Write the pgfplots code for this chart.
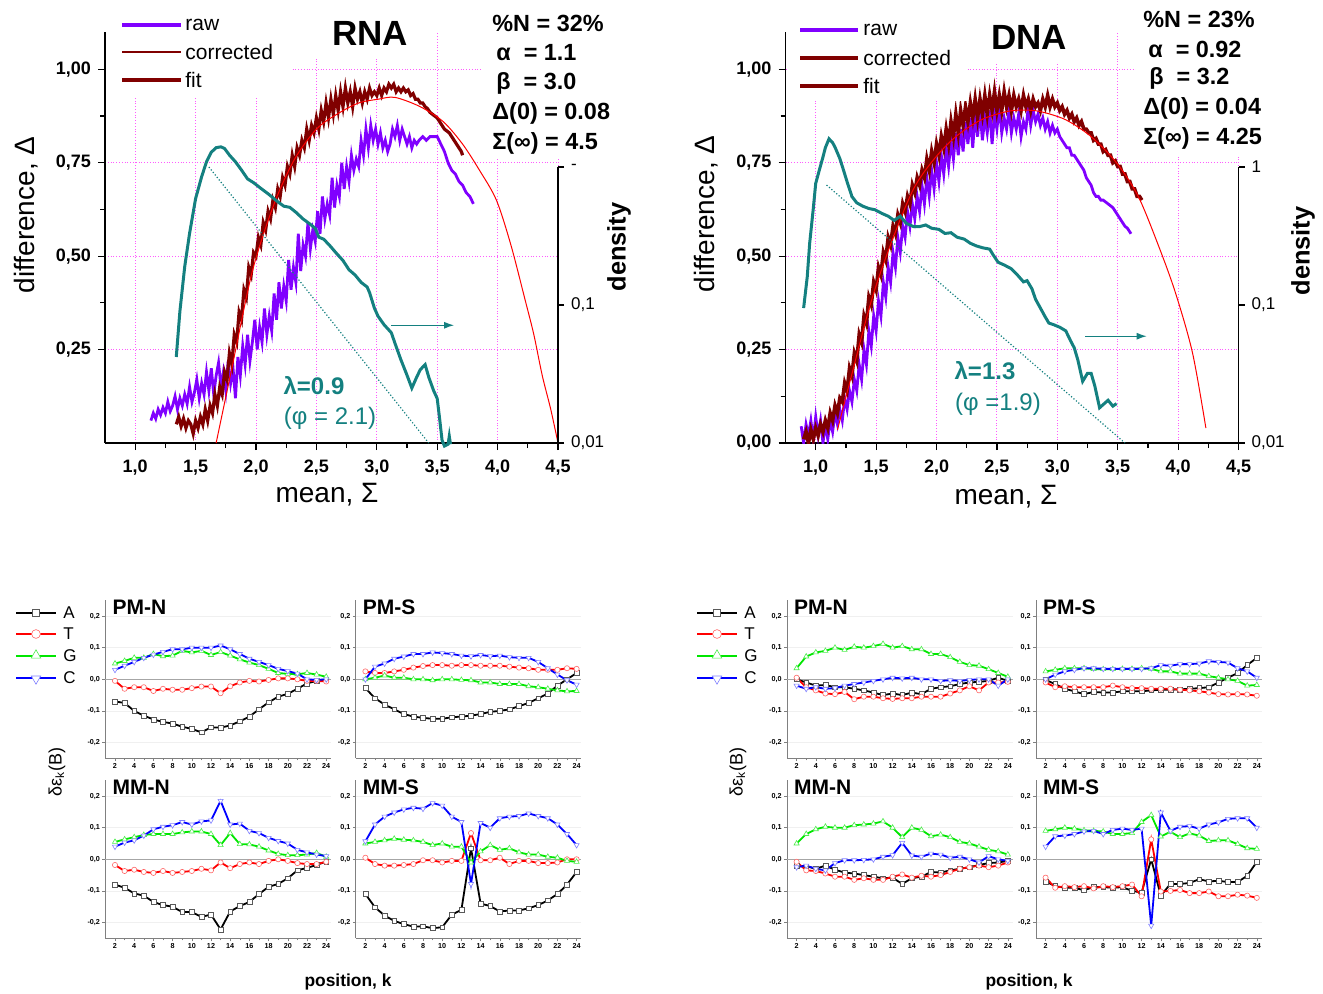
\documentclass[border=0pt]{standalone}
\usepackage{fontspec}
\setmainfont{Liberation Sans}
\usepackage{pgfplots}
\usepackage{pgfplotstable}
\pgfplotsset{compat=1.18}
\usetikzlibrary{arrows.meta,shapes.geometric}

\definecolor{rawc}{RGB}{128,0,255}
\definecolor{corc}{RGB}{128,0,0}
\definecolor{fitc}{RGB}{255,0,0}
\definecolor{tl}{RGB}{20,128,128}
\definecolor{gridm}{RGB}{255,90,255}
\definecolor{cG}{RGB}{0,230,0}

% ---- small panels: k, A, T, G, C ----
\pgfplotstableread{
k A T G C
2 -0.070 -0.005 0.050 0.030
3 -0.075 -0.030 0.058 0.043
4 -0.100 -0.025 0.068 0.055
5 -0.115 -0.025 0.068 0.068
6 -0.127 -0.037 0.080 0.078
7 -0.135 -0.030 0.073 0.087
8 -0.140 -0.033 0.075 0.095
9 -0.150 -0.033 0.090 0.095
10 -0.157 -0.028 0.085 0.100
11 -0.168 -0.023 0.090 0.100
12 -0.152 -0.023 0.077 0.100
13 -0.153 -0.044 0.086 0.107
14 -0.146 -0.022 0.075 0.095
15 -0.133 -0.010 0.063 0.080
16 -0.118 -0.005 0.053 0.065
17 -0.095 -0.007 0.045 0.055
18 -0.073 -0.002 0.033 0.045
19 -0.055 0.003 0.020 0.033
20 -0.046 0.003 0.017 0.026
21 -0.030 0.000 0.016 0.018
22 -0.013 -0.005 0.020 0.000
23 -0.005 -0.005 0.015 -0.002
24 0.000 -0.007 0.008 0.000
}\rPMN
\pgfplotstableread{
k A T G C
2 -0.028 0.025 0.000 0.000
3 -0.060 0.020 0.005 0.040
4 -0.080 0.020 0.012 0.050
5 -0.095 0.025 0.005 0.065
6 -0.110 0.030 0.005 0.072
7 -0.118 0.037 0.000 0.080
8 -0.122 0.042 0.000 0.080
9 -0.125 0.045 -0.003 0.085
10 -0.125 0.045 0.000 0.083
11 -0.120 0.043 0.000 0.080
12 -0.118 0.045 -0.002 0.075
13 -0.115 0.045 -0.003 0.073
14 -0.110 0.043 -0.010 0.077
15 -0.103 0.043 -0.010 0.073
16 -0.100 0.043 -0.015 0.075
17 -0.095 0.040 -0.015 0.070
18 -0.085 0.037 -0.015 0.068
19 -0.075 0.035 -0.022 0.068
20 -0.060 0.030 -0.025 0.055
21 -0.045 0.030 -0.030 0.035
22 -0.020 0.030 -0.035 0.015
23 0.000 0.035 -0.038 -0.003
24 0.020 0.033 -0.037 -0.017
}\rPMS
\pgfplotstableread{
k A T G C
2 -0.080 -0.018 0.055 0.040
3 -0.090 -0.037 0.063 0.053
4 -0.108 -0.033 0.070 0.060
5 -0.115 -0.040 0.077 0.075
6 -0.135 -0.043 0.080 0.095
7 -0.145 -0.037 0.080 0.103
8 -0.150 -0.043 0.080 0.108
9 -0.167 -0.040 0.085 0.118
10 -0.167 -0.037 0.088 0.110
11 -0.182 -0.030 0.088 0.120
12 -0.175 -0.035 0.080 0.123
13 -0.222 -0.010 0.045 0.185
14 -0.165 -0.028 0.083 0.110
15 -0.148 -0.015 0.048 0.113
16 -0.135 -0.010 0.047 0.090
17 -0.110 -0.015 0.040 0.083
18 -0.087 -0.005 0.028 0.068
19 -0.078 0.000 0.017 0.058
20 -0.060 -0.005 0.013 0.050
21 -0.035 -0.012 0.013 0.030
22 -0.027 -0.015 0.015 0.022
23 -0.018 -0.015 0.020 0.015
24 -0.007 -0.008 0.008 0.010
}\rMMN
\pgfplotstableread{
k A T G C
2 -0.110 0.005 0.050 0.057
3 -0.152 -0.015 0.055 0.110
4 -0.178 -0.020 0.060 0.135
5 -0.195 -0.020 0.065 0.148
6 -0.205 -0.018 0.062 0.158
7 -0.213 -0.015 0.060 0.163
8 -0.212 -0.003 0.055 0.160
9 -0.218 -0.003 0.045 0.178
10 -0.215 -0.010 0.050 0.170
11 -0.175 -0.005 0.040 0.135
12 -0.160 -0.005 0.040 0.118
13 0.035 0.083 -0.010 -0.078
14 -0.140 -0.003 0.025 0.115
15 -0.148 -0.003 0.045 0.100
16 -0.165 0.005 0.030 0.130
17 -0.162 -0.015 0.035 0.135
18 -0.162 -0.005 0.022 0.137
19 -0.155 -0.005 0.015 0.145
20 -0.145 -0.012 0.015 0.137
21 -0.130 -0.012 0.008 0.130
22 -0.110 -0.010 0.005 0.110
23 -0.080 0.000 -0.005 0.080
24 -0.040 0.000 -0.008 0.045
}\rMMS
\pgfplotstableread{
k A T G C
2 0.000 0.005 0.035 -0.020
3 -0.010 -0.025 0.072 -0.030
4 -0.020 -0.035 0.085 -0.025
5 -0.018 -0.045 0.090 -0.030
6 -0.025 -0.047 0.100 -0.028
7 -0.025 -0.040 0.093 -0.020
8 -0.030 -0.063 0.103 -0.015
9 -0.035 -0.055 0.100 -0.010
10 -0.042 -0.055 0.105 -0.005
11 -0.050 -0.060 0.112 0.000
12 -0.045 -0.062 0.100 0.005
13 -0.050 -0.060 0.105 0.003
14 -0.042 -0.060 0.095 0.005
15 -0.047 -0.055 0.095 0.000
16 -0.030 -0.055 0.080 0.000
17 -0.025 -0.055 0.080 -0.005
18 -0.022 -0.045 0.070 -0.003
19 -0.015 -0.035 0.055 -0.005
20 -0.010 -0.022 0.045 -0.002
21 -0.008 -0.035 0.043 0.000
22 -0.005 -0.010 0.032 0.000
23 0.005 -0.010 0.020 -0.020
24 -0.005 -0.008 0.008 0.000
}\dPMN
\pgfplotstableread{
k A T G C
2 -0.002 -0.010 0.025 0.000
3 -0.015 -0.025 0.030 0.015
4 -0.030 -0.022 0.035 0.025
5 -0.038 -0.025 0.035 0.030
6 -0.047 -0.025 0.035 0.035
7 -0.040 -0.025 0.032 0.035
8 -0.042 -0.025 0.032 0.033
9 -0.042 -0.020 0.032 0.033
10 -0.038 -0.025 0.033 0.033
11 -0.038 -0.028 0.033 0.033
12 -0.038 -0.028 0.035 0.033
13 -0.035 -0.030 0.033 0.035
14 -0.033 -0.030 0.025 0.045
15 -0.033 -0.030 0.025 0.043
16 -0.032 -0.033 0.018 0.048
17 -0.030 -0.035 0.018 0.048
18 -0.028 -0.038 0.018 0.050
19 -0.025 -0.042 0.010 0.057
20 -0.010 -0.047 0.005 0.055
21 0.005 -0.048 0.000 0.053
22 0.020 -0.047 -0.005 0.035
23 0.045 -0.048 -0.020 0.025
24 0.068 -0.052 -0.018 0.005
}\dPMS
\pgfplotstableread{
k A T G C
2 -0.020 -0.008 0.050 -0.025
3 -0.022 -0.035 0.080 -0.020
4 -0.030 -0.037 0.095 -0.030
5 -0.020 -0.045 0.103 -0.035
6 -0.033 -0.055 0.100 -0.012
7 -0.042 -0.055 0.100 -0.003
8 -0.045 -0.065 0.108 -0.003
9 -0.050 -0.060 0.110 -0.002
10 -0.055 -0.065 0.113 0.000
11 -0.060 -0.065 0.120 0.008
12 -0.058 -0.055 0.100 0.013
13 -0.078 -0.048 0.070 0.052
14 -0.060 -0.058 0.100 0.012
15 -0.055 -0.052 0.093 0.008
16 -0.040 -0.055 0.073 0.018
17 -0.042 -0.050 0.078 0.015
18 -0.035 -0.040 0.070 0.005
19 -0.030 -0.030 0.055 0.008
20 -0.025 -0.025 0.050 0.000
21 -0.018 -0.020 0.040 -0.010
22 -0.012 -0.025 0.030 0.010
23 -0.010 -0.020 0.025 0.000
24 -0.005 -0.010 0.015 -0.005
}\dMMN
\pgfplotstableread{
k A T G C
2 -0.070 -0.058 0.090 0.040
3 -0.085 -0.090 0.095 0.073
4 -0.090 -0.085 0.100 0.075
5 -0.090 -0.088 0.097 0.080
6 -0.098 -0.085 0.092 0.088
7 -0.088 -0.092 0.090 0.090
8 -0.088 -0.085 0.088 0.080
9 -0.090 -0.088 0.080 0.093
10 -0.088 -0.085 0.080 0.097
11 -0.100 -0.080 0.083 0.093
12 -0.105 -0.117 0.118 0.097
13 0.000 0.063 0.140 -0.210
14 -0.115 -0.102 0.072 0.148
15 -0.078 -0.100 0.087 0.090
16 -0.078 -0.097 0.070 0.103
17 -0.075 -0.107 0.082 0.105
18 -0.063 -0.107 0.075 0.097
19 -0.070 -0.102 0.058 0.110
20 -0.068 -0.117 0.060 0.117
21 -0.072 -0.117 0.060 0.128
22 -0.072 -0.112 0.048 0.130
23 -0.052 -0.115 0.035 0.130
24 -0.008 -0.122 0.033 0.100
}\dMMS

\pgfplotsset{
  big/.style={scale only axis, anchor=south west, width=226.5pt, height=205.5pt,
    xmin=0.75, xmax=4.5, ymin=0, ymax=1.1,
    axis x line*=bottom, axis y line*=left,
    axis line style={line width=0.6pt}, tick style={line width=0.6pt, black},
    tick align=outside, major tick length=3.5pt, minor tick length=2.5pt,
    xtick={1,1.5,2,2.5,3,3.5,4,4.5}, minor x tick num=1, minor y tick num=1,
    grid=major, major grid style={gridm, densely dotted, line width=0.5pt},
    ticklabel style={font=\fontsize{9}{10}\selectfont\bfseries},
    xticklabel style={yshift=-1.5pt, /pgf/number format/.cd, fixed, fixed zerofill, precision=1, use comma, assume math mode=true},
    yticklabel style={/pgf/number format/.cd, fixed, fixed zerofill, precision=2, use comma, assume math mode=true},
  },
  dens/.style={scale only axis, anchor=south west, width=226.5pt, height=138pt,
    xmin=0.75, xmax=4.5, ymin=0.01, ymax=1, clip=false,
    axis x line=none, axis y line*=right, axis line style={line width=0.6pt},
    ytick={0.01,0.1,1}, yminorticks=false, tick align=outside,
    tick style={line width=0.6pt, black}, major tick length=3pt,
    ticklabel style={font=\fontsize{8.5}{10}\selectfont},
  },
  small/.style={scale only axis, anchor=south west, width=112.8pt, height=79pt,
    xmin=1, xmax=24.5, ymin=-0.25, ymax=0.25, clip=false,
    axis x line*=bottom, axis y line*=left,
    axis line style={gray, line width=0.4pt}, tick style={gray, line width=0.3pt},
    xtick={2,4,...,24}, minor x tick num=1, ytick={-0.2,-0.1,0,0.1,0.2},
    tick align=outside, major tick length=1.5pt, minor tick length=1pt,
    ymajorgrids, major grid style={gray!12, line width=0.3pt},
    ticklabel style={font=\fontsize{3.6}{4}\selectfont\bfseries, inner sep=1pt},
    xticklabel style={/pgf/number format/assume math mode=true},
    yticklabel style={/pgf/number format/.cd, fixed, fixed zerofill, precision=1, use comma, assume math mode=true},
  },
  sA/.style={black, line width=0.9pt, mark=square*, mark size=1.2pt,
    mark options={fill=white, draw=gray!70!black, line width=0.3pt}},
  sT/.style={red, line width=0.9pt, mark=*, mark size=1.3pt,
    mark options={fill=white, draw=red!60, line width=0.3pt}},
  sG/.style={cG, line width=0.9pt, mark=triangle*, mark size=1.5pt,
    mark options={fill=white, draw=cG!70, line width=0.3pt}},
  sC/.style={blue, line width=0.9pt, mark=triangle*, mark size=1.5pt,
    mark options={fill=white, draw=blue!50, line width=0.3pt, rotate=180}},
}

\newcommand\panel[3]{%
  \begin{axis}[small, at={#1}]
    \draw[gray!70, line width=0.5pt] (axis cs:1,0) -- (axis cs:24.5,0);
    \addplot[sA] table[x=k,y=A]{#2};
    \addplot[sT] table[x=k,y=T]{#2};
    \addplot[sG] table[x=k,y=G]{#2};
    \addplot[sC] table[x=k,y=C]{#2};
    \node[anchor=west, inner sep=0pt, font=\fontsize{10.5}{12}\selectfont\bfseries] at (rel axis cs:0.03,0.955) {#3};
  \end{axis}}

\begin{document}
\begin{tikzpicture}
\path[use as bounding box] (0,0) rectangle (661.5pt,-497pt);

% ================= RNA =================
\begin{axis}[big, at={(52.5pt,-221.5pt)}, ytick={0.25,0.5,0.75,1}]
\addplot[rawc, line width=1.4pt] coordinates {
(1.13,.06)(1.15,.08)(1.17,.065)(1.19,.09)(1.21,.075)(1.23,.095)(1.25,.08)(1.27,.11)(1.29,.085)
(1.31,.10)(1.33,.125)(1.35,.09)(1.37,.12)(1.39,.10)(1.41,.13)(1.43,.105)(1.45,.15)(1.47,.11)
(1.49,.135)(1.51,.17)(1.53,.12)(1.55,.16)(1.57,.13)(1.59,.19)(1.61,.14)(1.63,.20)(1.65,.13)
(1.67,.18)(1.69,.215)(1.71,.15)(1.73,.19)(1.75,.14)(1.77,.22)(1.79,.16)(1.81,.20)(1.83,.12)
(1.85,.23)(1.87,.18)(1.89,.26)(1.91,.21)(1.93,.29)(1.95,.22)(1.97,.27)(1.99,.33)(2.01,.25)
(2.03,.31)(2.05,.27)(2.07,.36)(2.09,.29)(2.11,.34)(2.13,.30)(2.15,.40)(2.17,.33)(2.19,.43)
(2.21,.36)(2.23,.42)(2.25,.38)(2.27,.49)(2.29,.41)(2.31,.47)(2.33,.43)(2.35,.56)(2.37,.46)
(2.39,.53)(2.41,.50)(2.43,.59)(2.45,.52)(2.47,.57)(2.49,.54)(2.51,.62)(2.53,.56)(2.55,.66)
(2.57,.60)(2.59,.64)(2.61,.61)(2.63,.71)(2.65,.63)(2.67,.69)(2.69,.66)(2.71,.75)(2.73,.68)
(2.75,.74)(2.77,.70)(2.79,.77)(2.81,.73)(2.83,.76)(2.85,.74)(2.87,.81)(2.89,.77)(2.91,.84)
(2.93,.79)(2.95,.85)(2.97,.81)(2.99,.84)(3.01,.80)(3.03,.83)(3.05,.79)(3.07,.81)(3.09,.78)
(3.11,.80)(3.13,.84)(3.15,.82)(3.17,.85)(3.19,.81)(3.21,.84)(3.23,.82)(3.25,.80)(3.27,.82)
(3.29,.79)(3.31,.81)(3.33,.80)(3.35,.81)(3.38,.82)(3.41,.81)(3.44,.82)(3.47,.82)(3.50,.82)
(3.53,.80)(3.56,.78)(3.59,.75)(3.62,.73)(3.65,.72)(3.68,.70)(3.71,.69)(3.74,.67)(3.77,.66)
(3.80,.64)};
\addplot[corc, line width=1.6pt] coordinates {
(1.34,.05)(1.36,.07)(1.38,.045)(1.40,.065)(1.42,.04)(1.44,.06)(1.46,.05)(1.48,.025)(1.50,.06)
(1.52,.04)(1.54,.07)(1.56,.05)(1.58,.09)(1.60,.06)(1.62,.10)(1.64,.08)(1.66,.13)(1.68,.10)
(1.70,.15)(1.72,.13)(1.74,.19)(1.76,.17)(1.78,.24)(1.80,.21)(1.82,.29)(1.84,.27)(1.86,.35)
(1.88,.33)(1.90,.41)(1.92,.39)(1.94,.47)(1.96,.45)(1.98,.51)(2.00,.50)(2.02,.55)(2.04,.53)
(2.06,.59)(2.08,.57)(2.10,.62)(2.12,.60)(2.14,.65)(2.16,.63)(2.18,.68)(2.20,.66)(2.22,.71)
(2.24,.69)(2.26,.74)(2.28,.72)(2.30,.77)(2.32,.74)(2.34,.79)(2.36,.77)(2.38,.81)(2.40,.79)
(2.42,.84)(2.44,.81)(2.46,.85)(2.48,.83)(2.50,.87)(2.52,.84)(2.54,.89)(2.56,.86)(2.58,.91)
(2.60,.87)(2.62,.92)(2.64,.88)(2.66,.93)(2.68,.89)(2.70,.94)(2.72,.90)(2.74,.95)(2.76,.91)
(2.78,.94)(2.80,.90)(2.82,.95)(2.84,.92)(2.86,.94)(2.88,.91)(2.90,.94)(2.92,.92)(2.94,.95)
(2.96,.93)(2.98,.94)(3.00,.93)(3.02,.95)(3.04,.93)(3.06,.95)(3.08,.94)(3.10,.96)(3.12,.95)
(3.14,.96)(3.16,.94)(3.18,.95)(3.20,.94)(3.22,.95)(3.24,.94)(3.26,.945)(3.28,.93)(3.30,.935)
(3.32,.92)(3.34,.92)(3.36,.91)(3.38,.91)(3.40,.90)(3.42,.895)(3.44,.885)(3.46,.88)(3.48,.875)
(3.50,.87)(3.52,.86)(3.54,.85)(3.56,.84)(3.58,.835)(3.60,.83)(3.62,.82)(3.64,.81)(3.66,.80)
(3.68,.79)(3.70,.78)(3.71,.77)};
\addplot[fitc, line width=0.5pt, smooth] coordinates {
(1.67,0.00)(1.80,0.20)(1.97,0.46)(2.15,0.64)(2.32,0.76)(2.50,0.84)(2.67,0.88)(2.85,0.91)
(3.01,0.92)(3.15,0.925)(3.36,0.90)(3.55,0.86)(3.71,0.80)(3.85,0.73)(3.99,0.65)(4.11,0.53)
(4.23,0.38)(4.30,0.29)(4.37,0.18)(4.44,0.09)(4.50,0.00)};
\end{axis}

\begin{axis}[ymode=log, dens, at={(52.5pt,-221.5pt)}, yticklabels={{0,01},{0,1},{-}}]
\addplot[tl, densely dotted, line width=0.6pt] coordinates {(1.61,1.0)(3.43,0.01)};
\addplot[tl, line width=1.5pt] coordinates {
(1.34,0.042)(1.37,0.09)(1.41,0.19)(1.45,0.33)(1.50,0.59)(1.55,0.85)(1.59,1.09)(1.63,1.28)
(1.67,1.38)(1.71,1.40)(1.74,1.36)(1.78,1.22)(1.83,1.09)(1.88,0.95)(1.93,0.82)(1.98,0.77)
(2.04,0.70)(2.10,0.64)(2.18,0.56)(2.23,0.52)(2.28,0.51)(2.33,0.47)(2.39,0.42)(2.44,0.39)
(2.49,0.36)(2.52,0.31)(2.56,0.30)(2.61,0.27)(2.66,0.24)(2.72,0.21)(2.77,0.18)(2.82,0.165)
(2.87,0.146)(2.92,0.135)(2.94,0.123)(2.98,0.095)(3.01,0.083)(3.06,0.072)(3.12,0.063)
(3.16,0.050)(3.20,0.040)(3.25,0.031)(3.29,0.025)(3.33,0.030)(3.36,0.034)(3.40,0.037)
(3.43,0.030)(3.47,0.024)(3.50,0.021)(3.52,0.015)(3.54,0.0105)(3.56,0.0095)(3.59,0.0098)
(3.60,0.0112)(3.61,0.0098)};
\draw[tl, line width=0.6pt, -{Latex[length=5pt,width=3.5pt]}] (axis cs:3.12,0.0713) -- (axis cs:3.64,0.0713);
\end{axis}

% ================= DNA =================
\begin{axis}[big, at={(392.75pt,-221.5pt)}, ytick={0,0.25,0.5,0.75,1}]
\addplot[rawc, line width=1.4pt] coordinates {
(0.88,.045)(0.90,.0)(0.92,.05)(0.94,.02)(0.96,.06)(0.98,.01)(1.00,.07)(1.02,.02)(1.04,.06)
(1.06,.0)(1.08,.05)(1.10,.01)(1.12,.06)(1.14,.03)(1.16,.08)(1.18,.05)(1.20,.09)(1.22,.06)
(1.24,.12)(1.26,.09)(1.28,.14)(1.30,.11)(1.32,.17)(1.34,.14)(1.36,.21)(1.38,.17)(1.40,.25)
(1.42,.21)(1.44,.30)(1.46,.26)(1.48,.34)(1.50,.30)(1.52,.38)(1.54,.34)(1.56,.43)(1.58,.39)
(1.60,.47)(1.62,.43)(1.64,.51)(1.66,.47)(1.68,.55)(1.70,.51)(1.72,.58)(1.74,.55)(1.76,.62)
(1.78,.58)(1.80,.64)(1.82,.60)(1.84,.66)(1.86,.62)(1.88,.69)(1.90,.64)(1.92,.71)(1.94,.66)
(1.96,.73)(1.98,.68)(2.00,.75)(2.02,.70)(2.04,.77)(2.06,.72)(2.08,.79)(2.10,.74)(2.12,.81)
(2.14,.76)(2.16,.83)(2.18,.77)(2.20,.84)(2.22,.78)(2.24,.86)(2.26,.80)(2.28,.87)(2.30,.79)
(2.32,.88)(2.34,.82)(2.36,.89)(2.38,.81)(2.40,.87)(2.42,.83)(2.44,.89)(2.46,.80)(2.48,.88)
(2.50,.84)(2.52,.90)(2.54,.83)(2.56,.87)(2.58,.84)(2.60,.89)(2.62,.83)(2.64,.87)(2.66,.84)
(2.68,.88)(2.70,.82)(2.72,.86)(2.74,.84)(2.76,.90)(2.78,.85)(2.80,.89)(2.82,.86)(2.84,.88)
(2.86,.85)(2.88,.87)(2.90,.84)(2.92,.86)(2.94,.83)(2.96,.85)(2.98,.83)(3.00,.84)(3.02,.82)
(3.04,.81)(3.06,.80)(3.08,.79)(3.10,.79)(3.12,.77)(3.14,.77)(3.16,.76)(3.18,.75)(3.20,.74)
(3.22,.73)(3.24,.71)(3.26,.70)(3.28,.69)(3.30,.67)(3.32,.66)(3.34,.66)(3.36,.65)(3.38,.65)
(3.40,.645)(3.42,.64)(3.44,.635)(3.46,.63)(3.48,.62)(3.50,.61)(3.52,.60)(3.54,.59)(3.56,.58)
(3.58,.575)(3.61,.56)};
\addplot[corc, line width=1.8pt] coordinates {
(0.90,.01)(0.92,.03)(0.94,.0)(0.96,.035)(0.98,.01)(1.00,.04)(1.02,.02)(1.04,.05)(1.06,.03)
(1.08,.06)(1.10,.04)(1.12,.08)(1.14,.06)(1.16,.10)(1.18,.08)(1.20,.12)(1.22,.11)(1.24,.16)
(1.26,.14)(1.28,.20)(1.30,.18)(1.32,.24)(1.34,.22)(1.36,.29)(1.38,.27)(1.40,.34)(1.42,.32)
(1.44,.39)(1.46,.37)(1.48,.43)(1.50,.41)(1.52,.47)(1.54,.45)(1.56,.51)(1.58,.49)(1.60,.55)
(1.62,.53)(1.64,.58)(1.66,.56)(1.68,.61)(1.70,.59)(1.72,.64)(1.74,.62)(1.76,.66)(1.78,.64)
(1.80,.69)(1.82,.67)(1.84,.71)(1.86,.69)(1.88,.73)(1.90,.71)(1.92,.76)(1.94,.73)(1.96,.78)
(1.98,.75)(2.00,.80)(2.02,.77)(2.04,.82)(2.06,.79)(2.08,.84)(2.10,.80)(2.12,.86)(2.14,.82)
(2.16,.88)(2.18,.83)(2.20,.89)(2.22,.85)(2.24,.90)(2.26,.86)(2.28,.91)(2.30,.87)(2.32,.92)
(2.34,.87)(2.36,.92)(2.38,.88)(2.40,.93)(2.42,.88)(2.44,.93)(2.46,.89)(2.48,.94)(2.50,.89)
(2.52,.93)(2.54,.89)(2.56,.94)(2.58,.90)(2.60,.93)(2.62,.89)(2.64,.93)(2.66,.90)(2.68,.92)
(2.70,.89)(2.72,.93)(2.74,.90)(2.76,.92)(2.78,.89)(2.80,.92)(2.82,.90)(2.84,.91)(2.86,.89)
(2.88,.92)(2.90,.90)(2.92,.93)(2.94,.90)(2.96,.92)(2.98,.90)(3.00,.91)(3.02,.89)(3.04,.90)
(3.06,.88)(3.08,.89)(3.10,.87)(3.12,.88)(3.14,.86)(3.16,.87)(3.18,.85)(3.20,.86)(3.22,.84)
(3.24,.84)(3.26,.83)(3.28,.83)(3.30,.81)(3.32,.815)(3.34,.80)(3.36,.80)(3.38,.78)(3.40,.785)
(3.42,.77)(3.44,.77)(3.46,.75)(3.48,.755)(3.50,.74)(3.52,.74)(3.54,.72)(3.56,.72)(3.58,.70)
(3.60,.70)(3.62,.68)(3.64,.68)(3.66,.66)(3.68,.66)(3.70,.65)};
\addplot[fitc, line width=0.5pt, smooth] coordinates {
(1.18,0.035)(1.28,0.16)(1.46,0.38)(1.63,0.54)(1.81,0.68)(1.98,0.76)(2.16,0.82)(2.37,0.865)
(2.58,0.887)(2.72,0.891)(2.86,0.887)(3.07,0.865)(3.28,0.82)(3.49,0.75)(3.67,0.66)(3.84,0.526)
(3.98,0.40)(4.12,0.24)(4.23,0.04)};
\end{axis}

\begin{axis}[ymode=log, dens, at={(392.75pt,-221.5pt)}, yticklabels={{0,01},{0,1},{1}}]
\addplot[tl, densely dotted, line width=0.6pt] coordinates {(1.09,0.74)(3.56,0.01)};
\addplot[tl, line width=1.5pt] coordinates {
(0.90,0.095)(0.93,0.16)(0.95,0.28)(0.98,0.50)(1.00,0.76)(1.03,0.95)(1.06,1.18)(1.08,1.38)
(1.11,1.60)(1.14,1.50)(1.16,1.39)(1.20,1.15)(1.23,0.95)(1.26,0.78)(1.30,0.61)(1.34,0.55)
(1.39,0.52)(1.44,0.50)(1.49,0.49)(1.55,0.46)(1.60,0.44)(1.65,0.41)(1.70,0.44)(1.75,0.39)
(1.81,0.37)(1.86,0.37)(1.91,0.38)(1.96,0.36)(2.02,0.353)(2.07,0.33)(2.12,0.334)(2.17,0.31)
(2.23,0.30)(2.28,0.28)(2.33,0.268)(2.38,0.26)(2.44,0.254)(2.47,0.23)(2.51,0.204)(2.56,0.195)
(2.62,0.183)(2.67,0.165)(2.72,0.147)(2.75,0.15)(2.79,0.131)(2.82,0.11)(2.86,0.095)(2.90,0.082)
(2.93,0.074)(2.97,0.072)(3.02,0.069)(3.07,0.065)(3.11,0.055)(3.14,0.049)(3.17,0.040)(3.21,0.028)
(3.25,0.032)(3.28,0.032)(3.31,0.026)(3.35,0.018)(3.38,0.019)(3.42,0.0204)(3.46,0.0185)(3.49,0.0193)};
\draw[tl, line width=0.6pt, -{Latex[length=5pt,width=3.5pt]}] (axis cs:3.23,0.0594) -- (axis cs:3.74,0.0594);
\end{axis}

% ================= small panels =================
\panel{(52.7pt,-379.15pt)}{\rPMN}{PM-N}
\panel{(177.9pt,-379.15pt)}{\rPMS}{PM-S}
\panel{(52.7pt,-469.15pt)}{\rMMN}{MM-N}
\panel{(177.9pt,-469.15pt)}{\rMMS}{MM-S}
\panel{(393.5pt,-379.15pt)}{\dPMN}{PM-N}
\panel{(518pt,-379.15pt)}{\dPMS}{PM-S}
\panel{(393.5pt,-469.15pt)}{\dMMN}{MM-N}
\panel{(518pt,-469.15pt)}{\dMMS}{MM-S}

% ================= annotations (pixel coordinates) =================
\begin{scope}[x=0.5pt,y=-0.5pt]
  % white patches hiding grid behind legend and texts
  \fill[white] (108,0) rectangle (292,96);
  \fill[white] (312,8) rectangle (428,58);
  \fill[white] (483,0) rectangle (615,158);
  \fill[white] (788,0) rectangle (967,101);
  \fill[white] (990,12) rectangle (1068,62);
  \fill[white] (1136,0) rectangle (1290,156);

  % RNA legend
  \draw[rawc, line width=2pt] (122,25) -- (181,25);
  \draw[corc, line width=1.1pt] (122,52) -- (181,52);
  \draw[corc, line width=2pt] (122,80) -- (181,80);
  \begin{scope}[font=\fontsize{10.5}{12}\selectfont]
    \node[anchor=west, inner sep=0pt] at (185,25) {raw};
    \node[anchor=west, inner sep=0pt] at (185,52) {corrected};
    \node[anchor=west, inner sep=0pt] at (185,80) {fit};
  \end{scope}
  % DNA legend
  \draw[rawc, line width=2pt] (800,30) -- (858,30);
  \draw[corc, line width=2pt] (800,58) -- (858,58);
  \draw[corc, line width=2pt] (800,86) -- (858,86);
  \begin{scope}[font=\fontsize{10.5}{12}\selectfont]
    \node[anchor=west, inner sep=0pt] at (863,30) {raw};
    \node[anchor=west, inner sep=0pt] at (863,58) {corrected};
    \node[anchor=west, inner sep=0pt] at (863,86) {fit};
  \end{scope}

  % titles
  \node[font=\fontsize{17.5}{20}\selectfont\bfseries] at (370,33) {RNA};
  \node[font=\fontsize{17.5}{20}\selectfont\bfseries] at (1029,37) {DNA};

  % parameters
  \begin{scope}[font=\fontsize{11.7}{14}\selectfont\bfseries]
    \node[anchor=west, inner sep=0pt] at (492,23) {\%N = 32\%};
    \node[anchor=west, inner sep=0pt] at (496,53) {α~~= 1.1};
    \node[anchor=west, inner sep=0pt] at (496,83) {β~~= 3.0};
    \node[anchor=west, inner sep=0pt] at (492,113) {Δ(0) = 0.08};
    \node[anchor=west, inner sep=0pt] at (492,143) {Σ(∞) = 4.5};
    \node[anchor=west, inner sep=0pt] at (1143,19) {\%N = 23\%};
    \node[anchor=west, inner sep=0pt] at (1148,49) {α~~= 0.92};
    \node[anchor=west, inner sep=0pt] at (1149,78) {β~~= 3.2};
    \node[anchor=west, inner sep=0pt] at (1143,108) {Δ(0) = 0.04};
    \node[anchor=west, inner sep=0pt] at (1143,138) {Σ(∞) = 4.25};
  \end{scope}

  % lambda / phi
  \node[tl, font=\fontsize{12}{14}\selectfont\bfseries] at (314,386) {λ=0.9};
  \node[tl, font=\fontsize{12}{14}\selectfont] at (330,418) {(φ = 2.1)};
  \node[tl, font=\fontsize{12}{14}\selectfont\bfseries] at (985,371) {λ=1.3};
  \node[tl, font=\fontsize{12}{14}\selectfont] at (998,404) {(φ =1.9)};

  % axis labels
  \node[rotate=90, font=\fontsize{14}{16}\selectfont] at (26,215) {difference, Δ};
  \node[rotate=90, font=\fontsize{14}{16}\selectfont] at (706,214) {difference, Δ};
  \node[font=\fontsize{14}{16}\selectfont] at (327,495) {mean, Σ};
  \node[font=\fontsize{14}{16}\selectfont] at (1006,497) {mean, Σ};
  \node[rotate=90, font=\fontsize{12.7}{14}\selectfont\bfseries] at (619,247) {density};
  \node[rotate=90, font=\fontsize{12.7}{14}\selectfont\bfseries] at (1303,251) {density};

  % small-panel legends
  \foreach \ox in {0,681}{
    \begin{scope}[xshift=\ox*0.5pt]
      \draw[black, line width=0.9pt] (16,613) -- (56,613);
      \node[draw=gray!70!black, fill=white, line width=0.3pt, minimum size=3.6pt, inner sep=0pt] at (36,613) {};
      \draw[red, line width=0.9pt] (16,634) -- (56,634);
      \node[circle, draw=red!60, fill=white, line width=0.3pt, minimum size=4.4pt, inner sep=0pt] at (36,634) {};
      \draw[cG, line width=0.9pt] (16,656) -- (56,656);
      \node[regular polygon, regular polygon sides=3, draw=cG!70, fill=white, line width=0.3pt, minimum size=5.5pt, inner sep=0pt] at (36,655.3) {};
      \draw[blue, line width=0.9pt] (16,678) -- (56,678);
      \node[regular polygon, regular polygon sides=3, shape border rotate=180, draw=blue!50, fill=white, line width=0.3pt, minimum size=5.5pt, inner sep=0pt] at (36,678.7) {};
      \begin{scope}[font=\fontsize{8.5}{10}\selectfont]
        \node[anchor=west, inner sep=0pt] at (63,613) {A};
        \node[anchor=west, inner sep=0pt] at (63,634) {T};
        \node[anchor=west, inner sep=0pt] at (63,656) {G};
        \node[anchor=west, inner sep=0pt] at (63,678) {C};
      \end{scope}
      \node[rotate=90, font=\fontsize{9}{11}\selectfont] at (57,772) {δε\textsubscript{k}(B)};
      \node[font=\fontsize{8.7}{10}\selectfont\bfseries] at (348,982) {position, k};
    \end{scope}
  }
\end{scope}
\end{tikzpicture}
\end{document}
